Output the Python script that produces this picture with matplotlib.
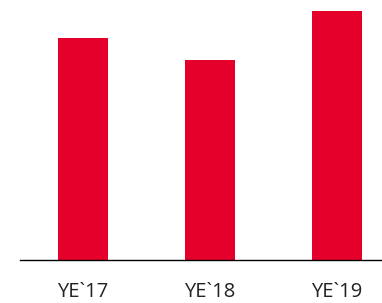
import matplotlib
matplotlib.use("Agg")
import matplotlib.pyplot as plt

categories = ["YE`17", "YE`18", "YE`19"]
values = [222, 200, 249]

W, H = 382, 303
fig = plt.figure(figsize=(W / 100, H / 100), dpi=100)
ax = fig.add_axes([20 / W, (H - 260) / H, 1 - 20 / W, 260 / H])
x = range(len(categories))
ax.bar(x, values, width=0.4, color="#E4002B")
ax.set_xlim(-0.496, 2.354)
ax.set_ylim(0, 260)
for s in ["top", "right", "left"]:
    ax.spines[s].set_visible(False)
ax.spines["bottom"].set_linewidth(1.0)
ax.spines["bottom"].set_color("black")
ax.set_yticks([])
ax.set_xticks(list(x))
ax.set_xticklabels(categories, fontsize=14.5, family="Open Sans", color="#222222")
ax.tick_params(axis="x", length=0, pad=16)
fig.savefig("out.png", dpi=100)
